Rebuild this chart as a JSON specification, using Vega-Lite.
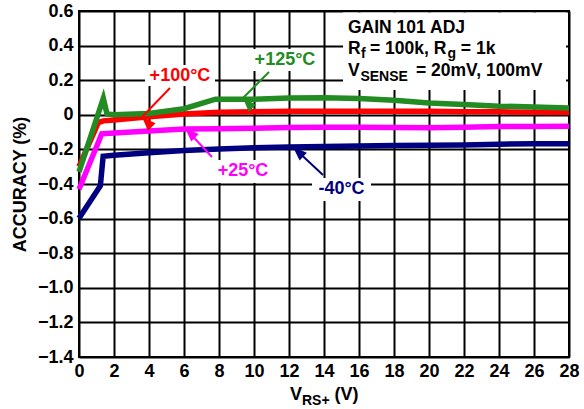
{
  "$schema": "https://vega.github.io/schema/vega-lite/v6.json",
  "width": 490,
  "height": 346,
  "autosize": {"type": "none"},
  "padding": {"left": 79, "top": 11, "right": 15, "bottom": 52},
  "background": "white",
  "datasets": {
    "lines": [
      {"s": "-40°C", "x": 0, "y": -0.598}, {"s": "-40°C", "x": 1.22, "y": -0.41}, {"s": "-40°C", "x": 1.38, "y": -0.24},
      {"s": "-40°C", "x": 2, "y": -0.234}, {"s": "-40°C", "x": 4, "y": -0.22}, {"s": "-40°C", "x": 6, "y": -0.207},
      {"s": "-40°C", "x": 8, "y": -0.197}, {"s": "-40°C", "x": 10, "y": -0.19}, {"s": "-40°C", "x": 12, "y": -0.186},
      {"s": "-40°C", "x": 14, "y": -0.183}, {"s": "-40°C", "x": 16, "y": -0.18}, {"s": "-40°C", "x": 18, "y": -0.178},
      {"s": "-40°C", "x": 20, "y": -0.176}, {"s": "-40°C", "x": 22, "y": -0.174}, {"s": "-40°C", "x": 24, "y": -0.17},
      {"s": "-40°C", "x": 26, "y": -0.168}, {"s": "-40°C", "x": 28, "y": -0.167},
      {"s": "+25°C", "x": 0, "y": -0.43}, {"s": "+25°C", "x": 1.1, "y": -0.16}, {"s": "+25°C", "x": 1.3, "y": -0.11},
      {"s": "+25°C", "x": 2, "y": -0.105}, {"s": "+25°C", "x": 4, "y": -0.094}, {"s": "+25°C", "x": 6, "y": -0.082},
      {"s": "+25°C", "x": 8, "y": -0.08}, {"s": "+25°C", "x": 10, "y": -0.078}, {"s": "+25°C", "x": 12, "y": -0.074},
      {"s": "+25°C", "x": 14, "y": -0.072}, {"s": "+25°C", "x": 16, "y": -0.072}, {"s": "+25°C", "x": 18, "y": -0.074},
      {"s": "+25°C", "x": 20, "y": -0.075}, {"s": "+25°C", "x": 22, "y": -0.072}, {"s": "+25°C", "x": 24, "y": -0.068},
      {"s": "+25°C", "x": 26, "y": -0.067}, {"s": "+25°C", "x": 28, "y": -0.066},
      {"s": "+100°C", "x": 0, "y": -0.3}, {"s": "+100°C", "x": 1.1, "y": -0.045}, {"s": "+100°C", "x": 1.4, "y": -0.035},
      {"s": "+100°C", "x": 2, "y": -0.03}, {"s": "+100°C", "x": 4, "y": -0.012}, {"s": "+100°C", "x": 6, "y": 0.005},
      {"s": "+100°C", "x": 8, "y": 0.015}, {"s": "+100°C", "x": 10, "y": 0.018}, {"s": "+100°C", "x": 12, "y": 0.02},
      {"s": "+100°C", "x": 14, "y": 0.02}, {"s": "+100°C", "x": 16, "y": 0.02}, {"s": "+100°C", "x": 18, "y": 0.02},
      {"s": "+100°C", "x": 20, "y": 0.02}, {"s": "+100°C", "x": 22, "y": 0.018}, {"s": "+100°C", "x": 24, "y": 0.017},
      {"s": "+100°C", "x": 26, "y": 0.015}, {"s": "+100°C", "x": 28, "y": 0.013},
      {"s": "+125°C", "x": 0, "y": -0.33}, {"s": "+125°C", "x": 1.39, "y": 0.095}, {"s": "+125°C", "x": 1.6, "y": 0.005},
      {"s": "+125°C", "x": 2, "y": 0.0}, {"s": "+125°C", "x": 4, "y": 0.008}, {"s": "+125°C", "x": 6, "y": 0.035},
      {"s": "+125°C", "x": 7.8, "y": 0.09}, {"s": "+125°C", "x": 10, "y": 0.09}, {"s": "+125°C", "x": 12, "y": 0.097},
      {"s": "+125°C", "x": 14, "y": 0.099}, {"s": "+125°C", "x": 16, "y": 0.094}, {"s": "+125°C", "x": 18, "y": 0.084},
      {"s": "+125°C", "x": 20, "y": 0.068}, {"s": "+125°C", "x": 22, "y": 0.06}, {"s": "+125°C", "x": 24, "y": 0.05},
      {"s": "+125°C", "x": 26, "y": 0.045}, {"s": "+125°C", "x": 28, "y": 0.04}
    ],
    "boxes": [
      {"x": 3.771, "x2": 7.771, "y": 0.2879, "y2": 0.1665},
      {"x": 9.771, "x2": 13.771, "y": 0.3803, "y2": 0.2532},
      {"x": 7.657, "x2": 11.143, "y": -0.2613, "y2": -0.3942},
      {"x": 13.314, "x2": 16.686, "y": -0.3653, "y2": -0.4983},
      {"x": 15.086, "x2": 27.83, "y": 0.591, "y2": 0.1434}
    ],
    "labels": [
      {"s": "+100°C", "x": 5.771, "y": 0.2243},
      {"s": "+125°C", "x": 11.771, "y": 0.3168},
      {"s": "+25°C", "x": 9.371, "y": -0.3249},
      {"s": "-40°C", "x": 15.0, "y": -0.4289}
    ],
    "arrows": [
      {"s": "+100°C", "x": 5.2, "y": 0.1549, "x2": 3.6, "y2": -0.0127},
      {"s": "+125°C", "x": 10.857, "y": 0.2474, "x2": 9.371, "y2": 0.0971},
      {"s": "+25°C", "x": 7.6, "y": -0.2439, "x2": 6.057, "y2": -0.0763},
      {"s": "-40°C", "x": 13.943, "y": -0.348, "x2": 12.229, "y2": -0.1861}
    ],
    "txt": [
      {"t": "GAIN 101 ADJ", "x": 15.371, "y": 0.4757},
      {"t": "R", "x": 15.371, "y": 0.3514},
      {"t": "= 100k, R", "x": 16.63, "y": 0.3514},
      {"t": "= 1k", "x": 21.82, "y": 0.3514},
      {"t": "V", "x": 15.371, "y": 0.2214},
      {"t": "= 20mV, 100mV", "x": 19.257, "y": 0.2214}
    ],
    "xtitle": [
      {"t": "V", "x": 12.057, "y": -1.6486},
      {"t": "(V)", "x": 14.606, "y": -1.6486}
    ],
    "sub": [
      {"t": "f", "x": 16.11, "y": 0.3312},
      {"t": "g", "x": 21.06, "y": 0.3312},
      {"t": "SENSE", "x": 16.08, "y": 0.1954},
      {"t": "RS+", "x": 12.743, "y": -1.6746}
    ]
  },
  "layer": [
    {
      "data": {"name": "boxes"},
      "mark": {"type": "rect", "fill": "white", "stroke": null},
      "encoding": {
        "x": {"field": "x", "type": "quantitative", "scale": {"domain": [0, 28], "nice": false}, "axis": {"title": null}},
        "x2": {"field": "x2"},
        "y": {"field": "y", "type": "quantitative", "scale": {"domain": [-1.4, 0.6], "nice": false}, "axis": {"title": "ACCURACY (%)"}},
        "y2": {"field": "y2"}
      }
    },
    {
      "data": {"name": "lines"},
      "mark": {"type": "line", "strokeWidth": 5.5, "strokeJoin": "miter", "strokeMiterLimit": 10},
      "encoding": {
        "x": {"field": "x", "type": "quantitative", "scale": {"domain": [0, 28], "nice": false}, "axis": {"title": null}},
        "y": {"field": "y", "type": "quantitative", "scale": {"domain": [-1.4, 0.6], "nice": false}, "axis": {"title": "ACCURACY (%)"}},
        "color": {"field": "s", "type": "nominal", "legend": null,
          "scale": {"domain": ["-40°C", "+25°C", "+100°C", "+125°C"], "range": ["#000080", "#ff00ff", "#ff0000", "#228b22"]}},
        "order": {"field": "x", "type": "quantitative"}
      }
    },
    {
      "data": {"name": "arrows"},
      "mark": {"type": "rule", "strokeWidth": 2},
      "encoding": {
        "x": {"field": "x", "type": "quantitative", "scale": {"domain": [0, 28], "nice": false}, "axis": {"title": null}},
        "y": {"field": "y", "type": "quantitative", "scale": {"domain": [-1.4, 0.6], "nice": false}, "axis": {"title": "ACCURACY (%)"}},
        "x2": {"field": "x2"},
        "y2": {"field": "y2"},
        "color": {"field": "s", "type": "nominal", "legend": null}
      }
    },
    {
      "data": {"name": "arrows"},
      "mark": {"type": "point", "filled": true, "opacity": 1, "size": 784, "shape": "M0,0L0.38,1L-0.38,1Z", "strokeWidth": 0},
      "encoding": {
        "x": {"field": "x2", "type": "quantitative", "scale": {"domain": [0, 28], "nice": false}, "axis": {"title": null}},
        "y": {"field": "y2", "type": "quantitative", "scale": {"domain": [-1.4, 0.6], "nice": false}, "axis": {"title": "ACCURACY (%)"}},
        "color": {"field": "s", "type": "nominal", "legend": null},
        "angle": {"field": "s", "type": "nominal", "legend": null,
          "scale": {"domain": ["-40°C", "+25°C", "+100°C", "+125°C"], "range": [313, 317, 224, 225]}}
      }
    },
    {
      "data": {"name": "labels"},
      "mark": {"type": "text", "font": "Liberation Sans", "fontWeight": "bold", "fontSize": 18, "align": "center", "baseline": "middle"},
      "encoding": {
        "x": {"field": "x", "type": "quantitative", "scale": {"domain": [0, 28], "nice": false}, "axis": {"title": null}},
        "y": {"field": "y", "type": "quantitative", "scale": {"domain": [-1.4, 0.6], "nice": false}, "axis": {"title": "ACCURACY (%)"}},
        "text": {"field": "s"},
        "color": {"field": "s", "type": "nominal", "legend": null}
      }
    },
    {
      "data": {"name": "txt"},
      "mark": {"type": "text", "font": "Liberation Sans", "fontWeight": "bold", "fontSize": 17.5, "align": "left", "baseline": "alphabetic", "color": "black"},
      "encoding": {
        "x": {"field": "x", "type": "quantitative", "scale": {"domain": [0, 28], "nice": false}, "axis": {"title": null}},
        "y": {"field": "y", "type": "quantitative", "scale": {"domain": [-1.4, 0.6], "nice": false}, "axis": {"title": "ACCURACY (%)"}},
        "text": {"field": "t"}
      }
    },
    {
      "data": {"name": "xtitle"},
      "mark": {"type": "text", "font": "Liberation Sans", "fontWeight": "bold", "fontSize": 18, "align": "left", "baseline": "alphabetic", "color": "black"},
      "encoding": {
        "x": {"field": "x", "type": "quantitative", "scale": {"domain": [0, 28], "nice": false}, "axis": {"title": null}},
        "y": {"field": "y", "type": "quantitative", "scale": {"domain": [-1.4, 0.6], "nice": false}, "axis": {"title": "ACCURACY (%)"}},
        "text": {"field": "t"}
      }
    },
    {
      "data": {"name": "sub"},
      "mark": {"type": "text", "font": "Liberation Sans", "fontWeight": "bold", "fontSize": 14, "align": "left", "baseline": "alphabetic", "color": "black"},
      "encoding": {
        "x": {"field": "x", "type": "quantitative", "scale": {"domain": [0, 28], "nice": false}, "axis": {"title": null}},
        "y": {"field": "y", "type": "quantitative", "scale": {"domain": [-1.4, 0.6], "nice": false}, "axis": {"title": "ACCURACY (%)"}},
        "text": {"field": "t"}
      }
    }
  ],
  "config": {
    "view": {"stroke": "black", "strokeWidth": 2},
    "font": "Liberation Sans",
    "axis": {
      "grid": true, "gridColor": "black", "gridWidth": 2, "gridOpacity": 1,
      "domain": false, "ticks": false, "tickSize": 0,
      "labelFont": "Liberation Sans", "labelFontWeight": "bold", "labelFontSize": 18, "labelColor": "black",
      "labelFlush": false, "labelOverlap": false,
      "titleFont": "Liberation Sans", "titleFontWeight": "bold", "titleFontSize": 18, "titleColor": "black"
    },
    "axisX": {"values": [0, 2, 4, 6, 8, 10, 12, 14, 16, 18, 20, 22, 24, 26, 28], "labelPadding": 5, "format": "d"},
    "axisY": {"values": [-1.4, -1.2, -1.0, -0.8, -0.6, -0.4, -0.2, 0, 0.2, 0.4, 0.6], "labelPadding": 6,
      "labelExpr": "abs(datum.value) < 1e-9 ? '0' : format(datum.value, '.1f')", "titlePadding": 8}
  }
}
